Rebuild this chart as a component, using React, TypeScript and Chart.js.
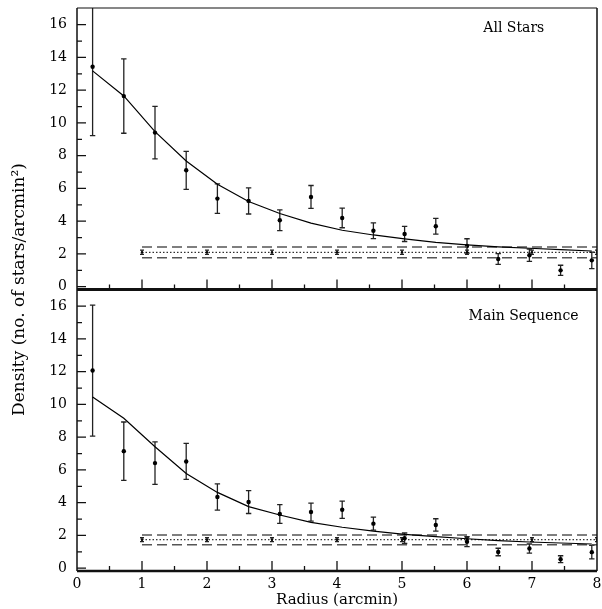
import React, { useEffect, useRef } from 'react';
import { Chart, registerables } from 'chart.js';

Chart.register(...registerables);

// ---------- data ----------
const radius = [0.24, 0.72, 1.2, 1.68, 2.16, 2.64, 3.12, 3.6, 4.08, 4.56, 5.04, 5.52, 6.0, 6.48, 6.96, 7.44, 7.92];

const allDensity = [13.43, 11.64, 9.41, 7.11, 5.38, 5.24, 4.06, 5.48, 4.2, 3.42, 3.22, 3.69, 2.49, 1.69, 1.92, 1.0, 1.61];
const allError = [4.2, 2.27, 1.6, 1.16, 0.9, 0.8, 0.63, 0.7, 0.6, 0.48, 0.46, 0.48, 0.44, 0.33, 0.37, 0.31, 0.5];
const allFit = [13.18, 11.65, 9.47, 7.68, 6.26, 5.2, 4.47, 3.88, 3.45, 3.16, 2.92, 2.71, 2.55, 2.43, 2.35, 2.26, 2.18];

const msDensity = [12.07, 7.15, 6.42, 6.52, 4.35, 4.04, 3.31, 3.43, 3.57, 2.72, 1.83, 2.64, 1.62, 0.99, 1.2, 0.55, 0.98];
const msError = [4.0, 1.78, 1.3, 1.1, 0.8, 0.7, 0.57, 0.55, 0.53, 0.4, 0.32, 0.38, 0.3, 0.23, 0.28, 0.21, 0.41];
const msFit = [10.46, 9.16, 7.42, 5.79, 4.63, 3.76, 3.25, 2.8, 2.5, 2.26, 2.07, 1.93, 1.8, 1.68, 1.6, 1.54, 1.48];

const bgRadius = [1, 2, 3, 4, 5, 6, 7, 8];
const allBgDensity = [2.1, 2.1, 2.1, 2.1, 2.1, 2.1, 2.1, 2.1];
const allBgError = [0.13, 0.13, 0.13, 0.13, 0.13, 0.13, 0.13, 0.13];
const msBgDensity = [1.74, 1.74, 1.74, 1.74, 1.74, 1.74, 1.74, 1.74];
const msBgError = [0.12, 0.12, 0.12, 0.12, 0.12, 0.12, 0.12, 0.12];

const bandRange = [1, 8];
const allBand = [2.1, 2.43, 1.77]; // level, upper, lower
const msBand = [1.74, 2.03, 1.44];

const panelTitles = ['All Stars', 'Main Sequence'];
const xTitle = 'Radius (arcmin)';
const yTitle = 'Density (no. of stars/arcmin²)';

const FONT = 'DejaVu Serif';

function panelDatasets(axis: string, dens: number[], err: number[], fit: number[], bgD: number[], bgE: number[], band: number[]) {
  const hline = (y: number) => bandRange.map((x) => ({ x, y }));
  return [
    {
      label: 'fit', yAxisID: axis, showLine: true, data: radius.map((r, i) => ({ x: r, y: fit[i] })),
      borderColor: '#000', borderWidth: 1.2, pointRadius: 0, tension: 0,
    },
    {
      label: 'upper', yAxisID: axis, showLine: true, data: hline(band[1]),
      borderColor: '#555', borderWidth: 1.5, borderDash: [10, 5], pointRadius: 0,
    },
    {
      label: 'lower', yAxisID: axis, showLine: true, data: hline(band[2]),
      borderColor: '#555', borderWidth: 1.5, borderDash: [10, 5], pointRadius: 0,
    },
    {
      label: 'background', yAxisID: axis, showLine: true, data: hline(band[0]),
      borderColor: '#000', borderWidth: 1, borderDash: [1.5, 2], pointRadius: 0,
    },
    {
      label: 'bg points', yAxisID: axis, showLine: false, data: bgRadius.map((r, i) => ({ x: r, y: bgD[i] })),
      errors: bgE, capWidth: 2, pointRadius: 0.8, backgroundColor: '#000', borderColor: '#000',
    },
    {
      label: 'density', yAxisID: axis, showLine: false, data: radius.map((r, i) => ({ x: r, y: dens[i] })),
      errors: err, capWidth: 2.7, pointRadius: 2.2, backgroundColor: '#000', borderColor: '#000', borderWidth: 0,
    },
  ];
}

const framePlugin = {
  id: 'frame',
  beforeDatasetsDraw(chart: any) {
    const ctx = chart.ctx;
    const xs = chart.scales.x;
    chart.data.datasets.forEach((ds: any) => {
      if (!ds.errors) return;
      const ys = chart.scales[ds.yAxisID];
      ctx.save();
      ctx.beginPath();
      ctx.rect(xs.left, ys.top, xs.right - xs.left, ys.bottom - ys.top);
      ctx.clip();
      ctx.strokeStyle = '#222';
      ctx.lineWidth = 1.3;
      ds.data.forEach((p: any, j: number) => {
        const px = xs.getPixelForValue(p.x);
        const t = ys.getPixelForValue(p.y + ds.errors[j]);
        const b = ys.getPixelForValue(p.y - ds.errors[j]);
        const c = ds.capWidth;
        ctx.beginPath();
        ctx.moveTo(px, t); ctx.lineTo(px, b);
        ctx.moveTo(px - c, t); ctx.lineTo(px + c, t);
        ctx.moveTo(px - c, b); ctx.lineTo(px + c, b);
        ctx.stroke();
      });
      ctx.restore();
    });
  },
  afterDatasetsDraw(chart: any) {
    const ctx = chart.ctx;
    const xs = chart.scales.x;
    const panels = ['yTop', 'yBot'];
    ctx.save();
    ctx.strokeStyle = '#111';
    panels.forEach((id, k) => {
      const ys = chart.scales[id];
      // y ticks
      ctx.lineWidth = 1.3;
      ctx.beginPath();
      for (let v = 0; v <= 16; v++) {
        const py = ys.getPixelForValue(v);
        const len = v % 2 === 0 ? 9 : 5;
        ctx.moveTo(xs.left, py); ctx.lineTo(xs.left + len, py);
      }
      // x ticks
      for (let v = 0.5; v < 8; v += 0.5) {
        const px = xs.getPixelForValue(v);
        const len = Number.isInteger(v) ? 10 : 5;
        ctx.moveTo(px, ys.bottom); ctx.lineTo(px, ys.bottom - len);
      }
      ctx.stroke();
      // panel title
      ctx.fillStyle = '#000';
      ctx.font = `14px "${FONT}"`;
      ctx.textAlign = 'center';
      ctx.textBaseline = 'middle';
      const tx = k === 0 ? 6.72 : 6.87;
      const ty = k === 0 ? 15.8 : 15.35;
      ctx.fillText(panelTitles[k], xs.getPixelForValue(tx), ys.getPixelForValue(ty));
    });
    const top = chart.scales.yTop;
    const bot = chart.scales.yBot;
    // frame
    ctx.lineWidth = 1.5;
    ctx.beginPath();
    ctx.moveTo(xs.left, top.top); ctx.lineTo(xs.left, bot.bottom);
    ctx.moveTo(xs.right, top.top); ctx.lineTo(xs.right, bot.bottom);
    ctx.stroke();
    ctx.lineWidth = 1.2;
    ctx.beginPath();
    ctx.moveTo(xs.left, top.top); ctx.lineTo(xs.right, top.top);
    ctx.stroke();
    ctx.lineWidth = 3;
    ctx.beginPath();
    ctx.moveTo(xs.left, top.bottom); ctx.lineTo(xs.right, top.bottom);
    ctx.stroke();
    ctx.lineWidth = 2.5;
    ctx.beginPath();
    ctx.moveTo(xs.left, bot.bottom); ctx.lineTo(xs.right, bot.bottom);
    ctx.stroke();
    ctx.restore();
  },
};

function panelAxis() {
  return {
    type: 'linear',
    position: 'left',
    stack: 'panels',
    stackWeight: 1,
    min: -0.17,
    max: 17.02,
    grid: { display: false, drawTicks: false },
    border: { display: false },
    ticks: { stepSize: 2, autoSkip: false, includeBounds: false, padding: 10, color: '#000', font: { family: FONT, size: 14 } },
    afterFit(s: any) { s.width = 47; s.paddingTop = 0; s.paddingBottom = 0; },
  };
}

export default function App() {
  const ref = useRef<HTMLCanvasElement | null>(null);
  useEffect(() => {
    if (!ref.current) return;
    Chart.defaults.font.family = FONT;
    Chart.defaults.color = '#000';
    const chart = new Chart(ref.current, {
      type: 'scatter',
      data: {
        datasets: [
          ...panelDatasets('yTop', allDensity, allError, allFit, allBgDensity, allBgError, allBand),
          ...panelDatasets('yBot', msDensity, msError, msFit, msBgDensity, msBgError, msBand),
        ] as any,
      },
      options: {
        animation: false,
        responsive: false,
        devicePixelRatio: 1,
        layout: { padding: { top: 8, right: 2, bottom: 0, left: 0 } },
        plugins: { legend: { display: false }, tooltip: { enabled: false } },
        scales: {
          x: {
            type: 'linear', position: 'bottom', min: 0, max: 8,
            grid: { display: false, drawTicks: false },
            border: { display: false },
            ticks: { stepSize: 1, autoSkip: false, includeBounds: false, padding: 5, maxRotation: 0, color: '#000', font: { family: FONT, size: 14 } },
            title: { display: true, text: xTitle, color: '#000', font: { family: FONT, size: 15 }, padding: 0 },
            afterFit(s: any) { s.height = 38; s.paddingLeft = 0; s.paddingRight = 0; },
          },
          yTitle: {
            type: 'linear', position: 'left', weight: 10, min: 0, max: 1,
            grid: { display: false, drawTicks: false },
            border: { display: false },
            ticks: { display: false },
            title: { display: true, text: yTitle, color: '#000', font: { family: FONT, size: 17 }, padding: { top: 9, bottom: 0 } },
            afterFit(s: any) { s.width = 30; s.paddingTop = 0; s.paddingBottom = 0; },
          },
          yBot: panelAxis(),
          yTop: panelAxis(),
        } as any,
      },
      plugins: [framePlugin],
    });
    return () => chart.destroy();
  }, []);
  return (
    <div style={{ position: 'fixed', left: 0, top: 0, width: 602, height: 609, background: '#fff' }}>
      <canvas ref={ref} width={602} height={609} style={{ display: 'block' }} />
    </div>
  );
}
